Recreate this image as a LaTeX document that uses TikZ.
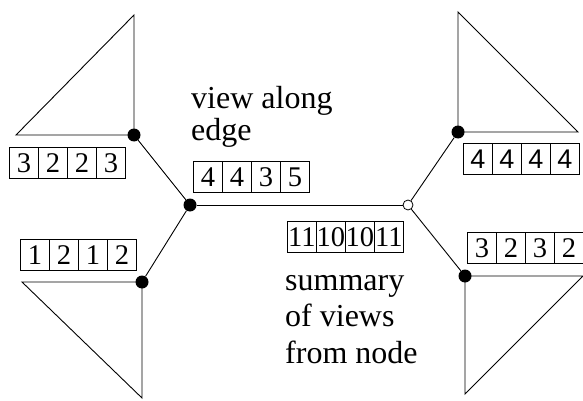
\documentclass[tikz,border=0pt]{standalone}
\usepackage{fontspec}
\setmainfont{Liberation Serif}
\newfontfamily\digsans{Liberation Sans}
\tikzset{
  cell/.style={draw, line width=0.8pt, minimum width=29pt, minimum height=31pt, inner sep=0pt, anchor=north west, font=\fontsize{28.5}{30}\selectfont},
  lbl/.style={inner sep=0pt, anchor=base west, font=\fontsize{32}{34}\selectfont},
  jdot/.style={circle, fill=black, minimum size=13pt, inner sep=0pt},
  jopen/.style={circle, draw=black, fill=white, line width=0.8pt, minimum size=10pt, inner sep=0pt},
  ln/.style={line width=0.9pt}
}
\newcommand\cellrow[5][]{%
  \foreach \d [count=\i from 0] in {#5} {
    \node[cell, #1] (#2-\i) at ({#3+29*\i},{#4}) {\d};
  }}
\begin{document}
\begin{tikzpicture}[x=1pt, y=-1pt]
\useasboundingbox (0,0) rectangle (583,401);
% triangles
\draw[ln] (134,135) -- (134,15) -- (16,135) -- cycle;
\draw[ln] (142,282) -- (22,282) -- (142,398) -- cycle;
\draw[ln] (458,132) -- (458,12) -- (578,132) -- cycle;
\draw[ln] (465,276) -- (583,276) -- (465,394) -- cycle;
% junctions
\node[jdot] (tl) at (134,135) {};
\node[jdot] (bl) at (142,282) {};
\node[jdot] (lc) at (190,205) {};
\node[jopen] (rc) at (408,205) {};
\node[jdot] (tr) at (458,132) {};
\node[jdot] (br) at (465,276) {};
% edges
\draw[ln] (tl) -- (lc);
\draw[ln] (bl) -- (lc);
\draw[ln] (lc) -- (rc);
\draw[ln] (rc) -- (tr);
\draw[ln] (rc) -- (br);
% boxes
\cellrow{ba}{9}{147}{3,2,2,3}
\cellrow{bb}{20}{239}{1,2,1,2}
\cellrow{bc}{193}{161}{4,4,3,5}
\cellrow{bd}{287}{221}{11,10,10,11}
\cellrow[font=\fontsize{27}{28}\digsans]{be}{463}{143}{4,4,4,4}
\cellrow{bf}{467}{232}{3,2,3,2}
% labels
\node[lbl] (t1) at (191,109) {view along};
\node[lbl] (t2) at (191,140) {edge};
\node[lbl] (t3) at (285,290) {summary};
\node[lbl] (t4) at (285,326) {of views};
\node[lbl] (t5) at (285,363) {from node};
\end{tikzpicture}
\end{document}
